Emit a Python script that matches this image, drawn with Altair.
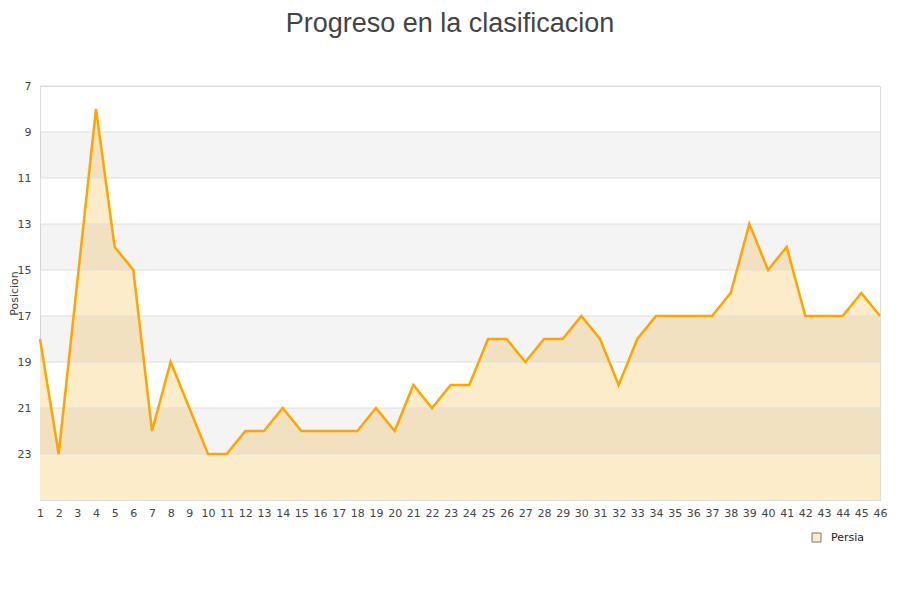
import altair as alt
import pandas as pd

# Data
jornadas = list(range(1, 47))
posiciones = [18, 23, 15.5, 8, 14, 15, 22, 19, 21, 23,
              23, 22, 22, 21, 22, 22, 22, 22, 21, 22,
              20, 21, 20, 20, 18, 18, 19, 18, 18, 17,
              18, 20, 18, 17, 17, 17, 17, 16, 13, 15,
              14, 17, 17, 17, 16, 17]
equipo = "Persia"
y_ticks = [7, 9, 11, 13, 15, 17, 19, 21, 23]
banda_inicio = [9, 13, 17, 21]
banda_fin = [11, 15, 19, 23]

df = pd.DataFrame({"Jornada": jornadas, "Posicion": posiciones,
                   "Equipo": [equipo] * len(jornadas)})
bands = pd.DataFrame({"y1": banda_inicio, "y2": banda_fin})
grid = pd.DataFrame({"g": y_ticks})

FONT = "DejaVu Sans"
xscale = alt.Scale(domain=[1, 46], nice=False, zero=False)
yscale = alt.Scale(domain=[7, 25], reverse=True, nice=False, zero=False)

x_axis = alt.Axis(values=jornadas, title=None, grid=False, ticks=False,
                  labelFontSize=11, labelFont=FONT, labelColor="#444",
                  labelPadding=7, domainColor="#dddddd",
                  labelFlush=False, labelOverlap=False, labelSeparation=0)
y_axis = alt.Axis(values=y_ticks, title="Posicion", grid=False, ticks=False,
                  labelFontSize=11, labelFont=FONT, labelColor="#444",
                  labelPadding=9, domainColor="#dddddd",
                  titleFont=FONT, titleFontSize=11, titleFontWeight="normal",
                  titleColor="#444", titleX=-26, titleY=207, titleAngle=270,
                  titleAlign="center", titleBaseline="middle")

x_enc = alt.X("Jornada:Q", scale=xscale, axis=x_axis)
y_enc = alt.Y("Posicion:Q", scale=yscale, axis=y_axis)

area = alt.Chart(df).mark_area(opacity=1).encode(
    x=x_enc,
    y=y_enc,
    y2=alt.datum(25),
    color=alt.Color("Equipo:N", scale=alt.Scale(range=["#fdecca"]),
                    legend=alt.Legend(title=None, orient="none", legendX=771, legendY=446,
                                      symbolType="square", symbolSize=81,
                                      symbolStrokeColor="#777", symbolStrokeWidth=1,
                                      labelOffset=9,
                                      labelFont=FONT, labelFontSize=11, labelColor="#222")),
)

band_layer = alt.Chart(bands).mark_rect(color="black", opacity=0.045).encode(
    x=alt.datum(1, scale=xscale, axis=x_axis),
    x2=alt.datum(46),
    y=alt.Y("y1:Q", scale=yscale, axis=y_axis),
    y2="y2:Q",
)

grid_layer = alt.Chart(grid).mark_rule(color="#dddddd", strokeWidth=1).encode(
    x=alt.datum(1, scale=xscale, axis=x_axis),
    x2=alt.datum(46),
    y=alt.Y("g:Q", scale=yscale, axis=y_axis),
)

line = alt.Chart(df).mark_line(color="#ffa500", strokeWidth=2.5).encode(
    x=x_enc,
    y=y_enc,
)

chart = alt.layer(area, band_layer, grid_layer, line).properties(
    width=840,
    height=414,
    title=alt.TitleParams("Progreso en la clasificacion", fontSize=27,
                          font="Liberation Sans", fontWeight="normal",
                          color="#444", anchor="middle", offset=42, dx=-10),
    autosize=alt.AutoSizeParams(type="none"),
    padding={"left": 32, "top": 78, "right": 10, "bottom": 50},
).configure_view(stroke="#dddddd", strokeWidth=1).configure(background="white")

chart.save("out.html", embed_options={"renderer": "svg", "actions": False})
